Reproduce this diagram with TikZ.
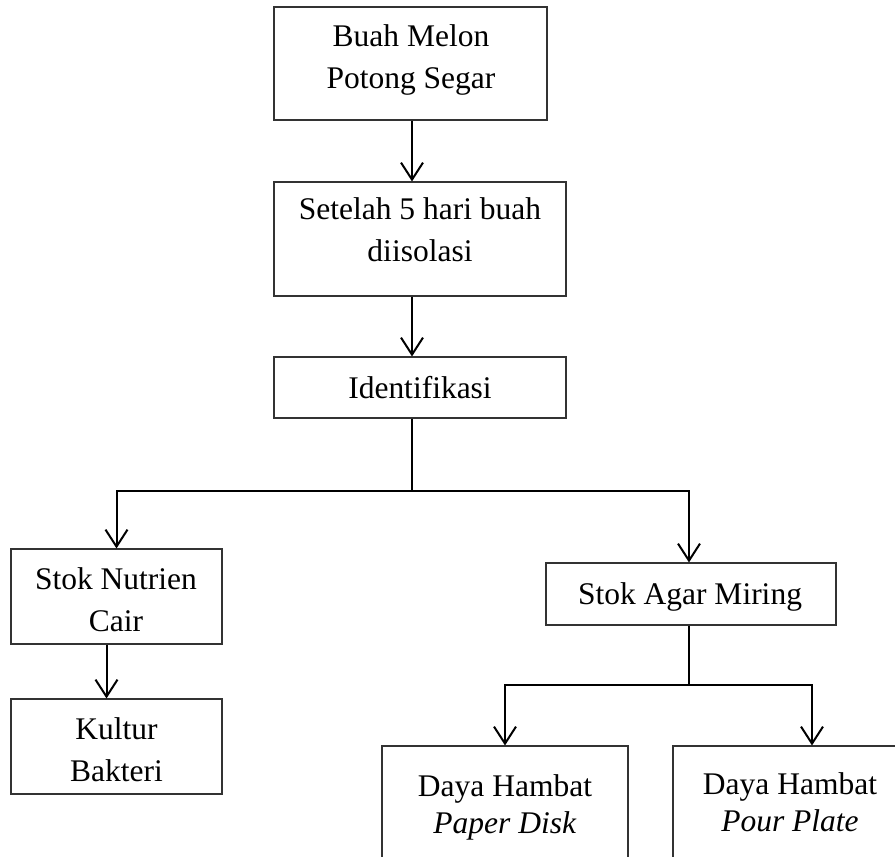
\documentclass[tikz,border=0pt]{standalone}
\usepackage{fontspec}
\setmainfont{Liberation Serif}
\usetikzlibrary{arrows.meta,calc}
\begin{document}
\begin{tikzpicture}[x=1pt,y=-1pt,
  box/.style={draw=black!80, line width=1.1pt, inner sep=0pt},
  txt/.style={inner sep=0pt, align=center, anchor=north,
    font=\fontsize{31.5}{42}\selectfont},
  tighttxt/.style={txt, font=\fontsize{31.5}{37}\selectfont},
  conn/.style={draw=black, line width=2pt},
  arr/.style={conn, -{Straight Barb[length=17pt,width=22pt]}}]
\useasboundingbox (0,0) rectangle (895,857);
\clip (0,0) rectangle (895,857);
% boxes
\node[box, minimum width=273pt, minimum height=113pt] (b1) at (410.5,63.5) {};
\node[box, minimum width=292pt, minimum height=114pt] (b2) at (420,239) {};
\node[box, minimum width=292pt, minimum height=61pt] (b3) at (420,387.5) {};
\node[box, minimum width=211pt, minimum height=95pt] (b4) at (116.5,596.5) {};
\node[box, minimum width=211pt, minimum height=95pt] (b5) at (116.5,746.5) {};
\node[box, minimum width=290pt, minimum height=62pt] (b6) at (691,594) {};
\node[box, minimum width=246pt, minimum height=116pt] (b7) at (505,804) {};
\node[box, minimum width=240pt, minimum height=116pt] (b8) at (793,804) {};
% texts
\node[txt] (t1) at (411,24) {Buah Melon\\Potong Segar};
\node[txt] (t2) at (420,197) {Setelah 5 hari buah\\diisolasi};
\node[txt] (t3) at (420,376) {Identifikasi};
\node[txt] (t4) at (116,567) {Stok Nutrien\\Cair};
\node[txt] (t5) at (116.5,717) {Kultur\\Bakteri};
\node[txt] (t6) at (690,582) {Stok Agar Miring};
\node[tighttxt] (t7) at (505,774) {Daya Hambat\\\textit{Paper Disk}};
\node[tighttxt] (t8) at (790,772) {Daya Hambat\\\textit{Pour Plate}};
% connectors
\coordinate (h1) at ($(b3.south)+(-8,72)$);
\coordinate (h2) at ($(b6.south)+(-2,59)$);
\draw[arr] ([xshift=1.5pt]b1.south) -- ([xshift=1.5pt]b1.south |- b2.north);
\draw[arr] ([xshift=-8pt]b2.south) -- ([xshift=-8pt]b3.north);
\draw[conn] ([xshift=-8pt]b3.south) -- (h1);
\draw[arr] (h1) -| (b4.north);
\draw[arr] (h1) -| ([xshift=-2pt]b6.north);
\draw[arr] ([xshift=-10pt]b4.south) -- ([xshift=-10pt]b5.north);
\draw[conn] ([xshift=-2pt]b6.south) -- (h2);
\draw[arr] (h2) -| (b7.north);
\draw[arr] (h2) -| ([xshift=19pt]b8.north);
\end{tikzpicture}
\end{document}
